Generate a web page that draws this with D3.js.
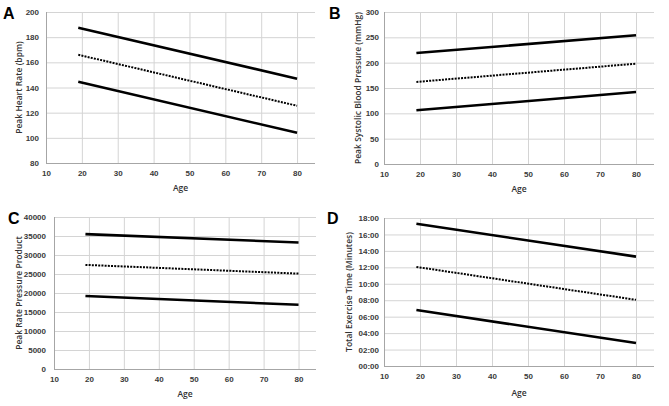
<!DOCTYPE html>
<html>
<head>
<meta charset="utf-8">
<script src="https://d3js.org/d3.v7.min.js"></script>
<style>
  body { margin: 0; background: #fff; }
  svg { display: block; font-family: 'Open Sans', sans-serif; }
  .tick text { font-size: 8px; font-weight: 700; fill: #3a3a3a; }
  .ytitle, .xtitle { font-size: 8.5px; font-weight: 600; fill: #333; }
  .letter { font-family: 'Liberation Sans', Arial, sans-serif; font-size: 16px; font-weight: bold; }
</style>
</head>
<body>
<div id="chart"></div>
<script>
// regression lines, value at age 19 and at age 80
var ages = [19, 80];

var hrUpper = [187.5, 147];
var hrMean  = [166, 125.5];
var hrLower = [144.5, 104];

var sbpUpper = [219, 254];
var sbpMean  = [162, 198];
var sbpLower = [106, 142];

var rppUpper = [35500, 33300];
var rppMean  = [27400, 25100];
var rppLower = [19200, 16900];

// minutes
var etUpper = [17.3, 13.3];
var etMean  = [12.05, 8.05];
var etLower = [6.8, 2.8];

var ageTicks = [10, 20, 30, 40, 50, 60, 70, 80];

var panels = [
  { letter: "A", title: "Peak Heart Rate (bpm)", yMin: 80, yMax: 200, yStep: 20,
    series: [hrUpper, hrMean, hrLower], fmt: d3.format("d"),
    left: 46, top: 12, right: 315, bottom: 163, lx: 3, ly: 19, tx: 19, gap: 7, ay: 191 },
  { letter: "B", title: "Peak Systolic Blood Pressure (mmHg)", yMin: 0, yMax: 300, yStep: 50,
    series: [sbpUpper, sbpMean, sbpLower], fmt: d3.format("d"),
    left: 384, top: 12, right: 654, bottom: 164, lx: 329, ly: 19, tx: 358, gap: 5, ay: 192 },
  { letter: "C", title: "Peak Rate Pressure Product", yMin: 0, yMax: 40000, yStep: 5000,
    series: [rppUpper, rppMean, rppLower], fmt: d3.format("d"),
    left: 54, top: 217, right: 316, bottom: 369, lx: 8, ly: 224, tx: 19, gap: 8, ay: 397 },
  { letter: "D", title: "Total Exercise Time (Minutes)", yMin: 0, yMax: 18, yStep: 2,
    series: [etUpper, etMean, etLower],
    fmt: function (m) { return (m < 10 ? "0" : "") + m + ":00"; },
    left: 384, top: 218, right: 654, bottom: 366, lx: 327, ly: 224, tx: 349, gap: 5, ay: 396 }
];

var svg = d3.select("#chart").append("svg")
    .attr("width", 669)
    .attr("height", 406);

panels.forEach(function (p) {
  var x = d3.scaleLinear().domain([10, 85]).range([p.left, p.right]);
  var y = d3.scaleLinear().domain([p.yMin, p.yMax]).range([p.bottom, p.top]);
  var yTicks = d3.range(p.yMin, p.yMax + p.yStep / 2, p.yStep);

  var g = svg.append("g");

  // horizontal grid
  g.append("g")
    .attr("transform", "translate(" + p.left + ",0)")
    .call(d3.axisLeft(y).tickValues(yTicks).tickSize(-(p.right - p.left)).tickFormat(p.fmt).tickPadding(p.gap))
    .call(function (a) {
      a.select(".domain").remove();
      a.selectAll(".tick line").attr("stroke", "#d4d4d4").attr("stroke-width", 1);
    });

  // vertical grid + x labels
  g.append("g")
    .attr("transform", "translate(0," + p.bottom + ")")
    .call(d3.axisBottom(x).tickValues(ageTicks).tickSize(-(p.bottom - p.top)).tickPadding(7))
    .call(function (a) {
      a.select(".domain").remove();
      a.selectAll(".tick line").attr("stroke", "#d4d4d4").attr("stroke-width", 1);
    });

  // axis lines
  g.append("line")
    .attr("x1", p.left).attr("x2", p.right)
    .attr("y1", p.bottom + 0.5).attr("y2", p.bottom + 0.5)
    .attr("stroke", "#a6a6a6");
  g.append("line")
    .attr("x1", p.left + 0.5).attr("x2", p.left + 0.5)
    .attr("y1", p.top).attr("y2", p.bottom)
    .attr("stroke", "#a6a6a6");

  var line = d3.line()
    .x(function (d, i) { return x(ages[i]); })
    .y(function (d) { return y(d); });

  p.series.forEach(function (s, i) {
    g.append("path")
      .attr("d", line(s))
      .attr("fill", "none")
      .attr("stroke", "#000")
      .attr("stroke-width", i === 1 ? 2 : 2.6)
      .attr("stroke-dasharray", i === 1 ? "2,1.2" : null);
  });

  g.append("text")
    .attr("class", "ytitle")
    .attr("transform", "translate(" + p.tx + "," + ((p.top + p.bottom) / 2) + ") rotate(-90)")
    .attr("text-anchor", "middle")
    .attr("dy", "0.35em")
    .text(p.title);

  g.append("text")
    .attr("class", "xtitle")
    .attr("x", (p.left + p.right) / 2)
    .attr("y", p.ay)
    .attr("text-anchor", "middle")
    .text("Age");

  g.append("text")
    .attr("class", "letter")
    .attr("x", p.lx)
    .attr("y", p.ly)
    .text(p.letter);
});
</script>
</body>
</html>
